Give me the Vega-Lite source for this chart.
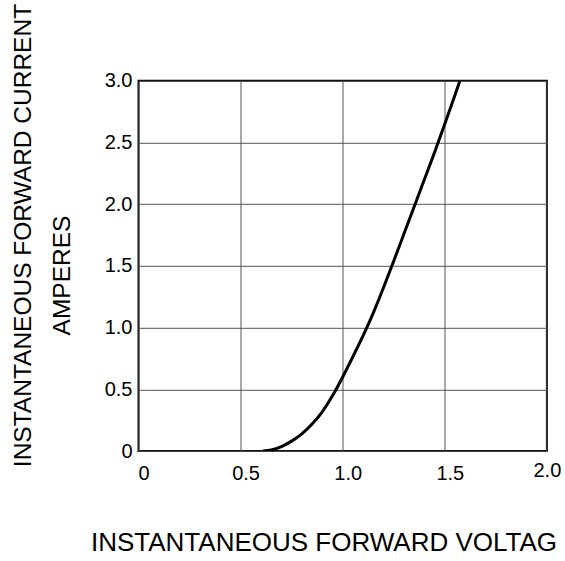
{
  "$schema": "https://vega.github.io/schema/vega-lite/v6.json",
  "autosize": "none",
  "padding": {"left": 138.5, "top": 80.8, "right": 18.1, "bottom": 110},
  "width": 408.4,
  "height": 370.2,
  "background": "white",
  "config": {
    "font": "Liberation Sans",
    "view": {"stroke": "black", "strokeWidth": 2},
    "axis": {"labelFont": "Liberation Sans", "titleFont": "Liberation Sans", "labelColor": "black", "titleColor": "black", "titleFontWeight": "normal", "gridColor": "#555", "gridOpacity": 1, "gridWidth": 1, "ticks": false, "tickSize": 0, "domain": false, "labelFontSize": 20, "titleFontSize": 24.5}
  },
  "data": {"values": [
    {"v": 0.61, "i": 0.0},
    {"v": 0.65, "i": 0.008},
    {"v": 0.70, "i": 0.036},
    {"v": 0.75, "i": 0.08},
    {"v": 0.80, "i": 0.138},
    {"v": 0.85, "i": 0.218},
    {"v": 0.90, "i": 0.318},
    {"v": 0.95, "i": 0.447},
    {"v": 1.00, "i": 0.60},
    {"v": 1.05, "i": 0.765},
    {"v": 1.10, "i": 0.935},
    {"v": 1.15, "i": 1.12},
    {"v": 1.20, "i": 1.325},
    {"v": 1.25, "i": 1.54},
    {"v": 1.30, "i": 1.76},
    {"v": 1.35, "i": 1.98},
    {"v": 1.40, "i": 2.20},
    {"v": 1.45, "i": 2.42},
    {"v": 1.50, "i": 2.65},
    {"v": 1.55, "i": 2.885},
    {"v": 1.574, "i": 3.0}
  ]},
  "layer": [
    {
      "mark": {"type": "line", "color": "black", "strokeWidth": 3, "interpolate": "monotone", "clip": true},
      "encoding": {
        "x": {"field": "v", "type": "quantitative", "scale": {"domain": [0, 2]},
          "axis": {"values": [0, 0.5, 1, 1.5, 2], "labelExpr": "datum.value == 0 ? '0' : format(datum.value, '.1f')", "labelFlush": false,
            "labelPadding": {"condition": {"test": "datum.value == 2", "value": 9.5}, "value": 12.5},
            "labelOffset": {"condition": {"test": "datum.value == 2", "value": 0}, "value": 5},
            "labelBaseline": "top",
            "title": "INSTANTANEOUS FORWARD VOLTAG", "titleFontSize": 26, "titleX": 185, "titleY": 91.5, "titleBaseline": "middle", "titleAlign": "center", "titleAnchor": null}},
        "y": {"field": "i", "type": "quantitative", "scale": {"domain": [0, 3]},
          "axis": {"values": [0, 0.5, 1, 1.5, 2, 2.5, 3], "labelExpr": "datum.value == 0 ? '0' : format(datum.value, '.1f')", "labelPadding": 6.5,
            "title": "INSTANTANEOUS FORWARD CURRENT", "titleX": -115.5, "titleY": 154.2, "titleBaseline": "middle", "titleAlign": "center", "titleAngle": 270}}
      }
    },
    {
      "mark": {"type": "line", "opacity": 0},
      "encoding": {
        "x": {"field": "v", "type": "quantitative"},
        "y": {"field": "i", "type": "quantitative",
          "axis": {"orient": "left", "labels": false, "grid": false, "ticks": false, "domain": false,
            "title": "AMPERES", "titleX": -76, "titleY": 194.2, "titleBaseline": "middle", "titleAlign": "center", "titleAngle": 270}}
      }
    }
  ],
  "resolve": {"axis": {"y": "independent"}}
}
